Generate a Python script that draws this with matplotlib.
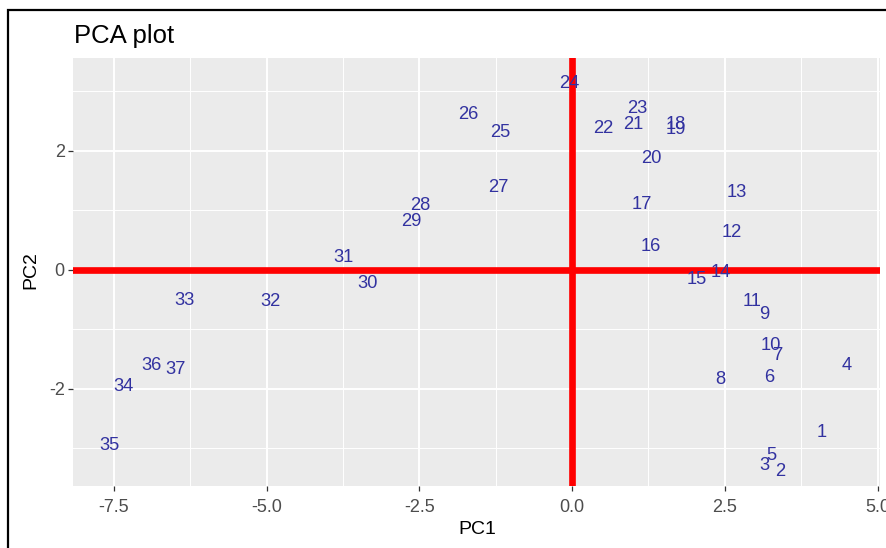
import numpy as np
import matplotlib.pyplot as plt
from matplotlib.patches import Rectangle

plt.rcParams["font.family"] = ["Liberation Sans", "DejaVu Sans"]

# sample ids and their scores on the first two components
labels = [str(i) for i in range(1, 38)]
pc1 = [4.08, 3.40, 3.15, 4.50, 3.26, 3.22, 3.38, 2.43, 3.15, 3.25,
       2.95, 2.61, 2.70, 2.43, 2.04, 1.28, 1.14, 1.70, 1.70, 1.29,
       1.00, 0.51, 1.07, -0.05, -1.18, -1.70, -1.21, -2.48, -2.64, -3.35,
       -3.75, -4.94, -6.34, -7.35, -7.58, -6.89, -6.49]
pc2 = [-2.69, -3.36, -3.26, -1.58, -3.08, -1.78, -1.41, -1.80, -0.71, -1.23,
       -0.49, 0.67, 1.33, -0.01, -0.12, 0.42, 1.13, 2.47, 2.40, 1.90,
       2.47, 2.41, 2.74, 3.16, 2.34, 2.64, 1.41, 1.11, 0.85, -0.20,
       0.24, -0.49, -0.48, -1.93, -2.91, -1.57, -1.64]

xticks = [-7.5, -5.0, -2.5, 0.0, 2.5, 5.0]
yticks = [-2, 0, 2]

W, H = 887, 548
fig = plt.figure(figsize=(W / 100, H / 100), dpi=100)

# panel placed in pixel terms
left, right, top, bottom = 73, 880, 58, 486
ax = fig.add_axes([left / W, 1 - bottom / H, (right - left) / W, (bottom - top) / H])
ax.set_facecolor("#EBEBEB")
ax.set_xlim(-8.17, 5.04)
ax.set_ylim(-3.63, 3.56)

ax.set_xticks(xticks)
ax.set_xticklabels(["%.1f" % v for v in xticks])
ax.set_yticks(yticks)
ax.set_yticklabels([str(v) for v in yticks])
ax.set_xticks([-6.25, -3.75, -1.25, 1.25, 3.75], minor=True)
ax.set_yticks([-3, -1, 1, 3], minor=True)
ax.grid(which="major", color="white", linewidth=1.4)
ax.grid(which="minor", color="white", linewidth=0.7)
ax.set_axisbelow(True)
ax.tick_params(which="major", length=3.5, width=0.9, color="#333333",
               labelcolor="#4D4D4D", labelsize=13)
ax.tick_params(axis="x", pad=6)
ax.tick_params(axis="y", pad=2.5)
ax.tick_params(which="minor", length=0)
for s in ax.spines.values():
    s.set_visible(False)

# reference lines through the origin
ax.axhline(0, color="#FF0000", linewidth=4.8, zorder=2)
ax.axvline(0, color="#FF0000", linewidth=4.8, zorder=2)

for lab, x, y in zip(labels, pc1, pc2):
    ax.text(x, y, lab, color="#3232A0", fontsize=13.2, ha="center",
            va="center_baseline", zorder=3)

fig.text(74 / W, 1 - 43 / H, "PCA plot", fontsize=18.5, ha="left", va="baseline")
fig.text(477 / W, 1 - 530 / H, "PC1", fontsize=14, ha="center", va="center")
fig.text(31 / W, 1 - 270 / H, "PC2", fontsize=14, ha="center", va="center",
         rotation=90)

# black frame around the screenshot
fig.patches.append(Rectangle((8 / W, -0.05), 1.1, 1 - 10 / H + 0.05,
                             transform=fig.transFigure, fill=False,
                             edgecolor="black", linewidth=1.6))

fig.savefig("out.png", dpi=100)
